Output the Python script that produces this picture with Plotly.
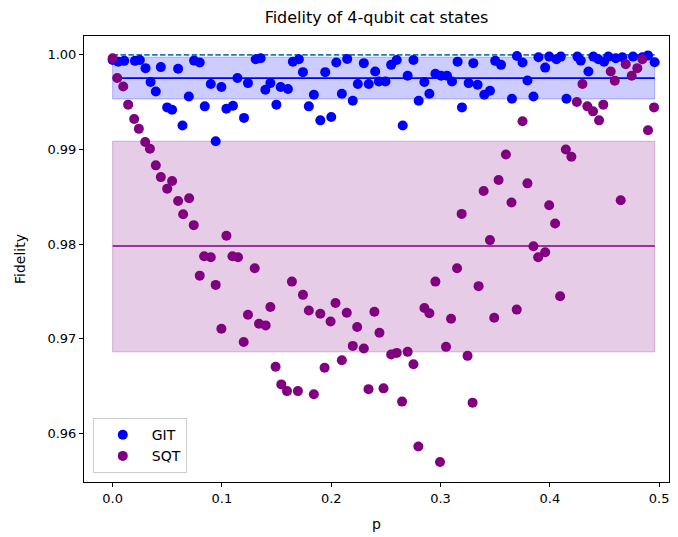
import plotly.graph_objects as go

# ---- data ----
git_p = [0.000, 0.0051, 0.0106, 0.0204, 0.0249, 0.0301, 0.0441, 0.0599, 0.0745, 0.0797,
         0.0347, 0.0395, 0.0499, 0.0544, 0.0697, 0.0639, 0.0843, 0.0898, 0.0995, 0.1041,
         0.1101, 0.1202, 0.0943, 0.1142, 0.1238, 0.1309, 0.1354, 0.1397, 0.1443, 0.1498,
         0.1537, 0.1604, 0.1649, 0.1704, 0.1741, 0.1795, 0.1841, 0.1900, 0.2000, 0.1945,
         0.2046, 0.2146, 0.2097, 0.2197, 0.2243, 0.2298, 0.2343, 0.2402, 0.2435, 0.2496,
         0.2548, 0.2599, 0.2699, 0.2654, 0.2752, 0.2800, 0.2852, 0.2898, 0.2953, 0.3005,
         0.3059, 0.3105, 0.3156, 0.3196, 0.3257, 0.3300, 0.3339, 0.3400, 0.3452, 0.3500,
         0.3553, 0.3653, 0.3699, 0.3750, 0.3795, 0.3850, 0.3896, 0.3957, 0.3994, 0.4060,
         0.4100, 0.4152, 0.4252, 0.4283, 0.4353, 0.4398, 0.4444, 0.4496, 0.4535, 0.4603,
         0.4663, 0.4761, 0.4898, 0.4959, 0.4846]
git_fid = [0.99947, 0.99929, 0.99937, 0.99937, 0.99947, 0.99860, 0.99871, 0.99853, 0.99940, 0.99919,
           0.99713, 0.99614, 0.99445, 0.99421, 0.99561, 0.99253, 0.99456, 0.99692, 0.99660, 0.99432,
           0.99463, 0.99334, 0.99087, 0.99755, 0.99702, 0.99955, 0.99965, 0.99632, 0.99702, 0.99474,
           0.99660, 0.99639, 0.99929, 0.99955, 0.99818, 0.99456, 0.99579, 0.99308, 0.99344, 0.99818,
           0.99919, 0.99958, 0.99589, 0.99516, 0.99692, 0.99913, 0.99692, 0.99824, 0.99719, 0.99719,
           0.99895, 0.99947, 0.99779, 0.99253, 0.99947, 0.99516, 0.99713, 0.99589, 0.99800, 0.99779,
           0.99779, 0.99719, 0.99929, 0.99445, 0.99702, 0.99913, 0.99684, 0.99579, 0.99621, 0.99937,
           0.99895, 0.99537, 0.99989, 0.99919, 0.99729, 0.99561, 0.99976, 0.99866, 0.99982, 0.99955,
           0.99982, 0.99537, 0.99982, 0.99940, 0.99824, 0.99982, 0.99955, 0.99929, 0.99982, 0.99965,
           0.99976, 0.99982, 0.99995, 0.99923, 0.99976]

sqt_p = [0.000, 0.0042, 0.0097, 0.0142, 0.0197, 0.0240, 0.0298, 0.0341, 0.0395, 0.0441,
         0.0544, 0.0499, 0.0599, 0.0700, 0.0645, 0.0742, 0.1041, 0.0837, 0.0898, 0.1096,
         0.1147, 0.1300, 0.0797, 0.0943, 0.1443, 0.1238, 0.1640, 0.1741, 0.1795, 0.1900,
         0.2039, 0.2142, 0.2395, 0.2852, 0.2898, 0.2953, 0.3151, 0.3348, 0.3193, 0.3394,
         0.3531, 0.3452, 0.3096, 0.3491, 0.3598, 0.4146, 0.4197, 0.3795, 0.3649, 0.3994,
         0.4648, 0.4048, 0.3850, 0.3957, 0.3893, 0.4094, 0.3697, 0.1339, 0.1400, 0.0995,
         0.1994, 0.2237, 0.2441, 0.1199, 0.2197, 0.2298, 0.1491, 0.1939, 0.2097, 0.1543,
         0.1595, 0.1695, 0.1841, 0.2341, 0.2478, 0.2548, 0.2599, 0.2699, 0.2752, 0.3050,
         0.3247, 0.2648, 0.3293, 0.2797, 0.2995, 0.4694, 0.4846, 0.4800, 0.4557, 0.4594,
         0.4749, 0.4298, 0.4247, 0.4343, 0.4395, 0.4489, 0.4450, 0.4953, 0.4898, 0.3750]
sqt_fid = [0.99965, 0.99755, 0.99666, 0.99474, 0.99323, 0.99218, 0.99079, 0.99007, 0.98832, 0.98708,
           0.98666, 0.98586, 0.98456, 0.98484, 0.98316, 0.98200, 0.98087, 0.97871, 0.97860, 0.97871,
           0.97860, 0.97744, 0.97666, 0.97568, 0.97334, 0.97253, 0.97603, 0.97463, 0.97298, 0.97263,
           0.97376, 0.97274, 0.97284, 0.97323, 0.97268, 0.97603, 0.97744, 0.97555, 0.98319, 0.98561,
           0.98677, 0.98042, 0.97211, 0.97221, 0.98947, 0.99000, 0.98923, 0.98642, 0.98439, 0.98411,
           0.98463, 0.98218, 0.97976, 0.97913, 0.97860, 0.97449, 0.97307, 0.97158, 0.97140, 0.97105,
           0.97182, 0.97123, 0.97063, 0.96965, 0.96923, 0.96895, 0.96702, 0.96692, 0.96772, 0.96516,
           0.96445, 0.96445, 0.96411, 0.96466, 0.96474, 0.96832, 0.96849, 0.96860, 0.96729, 0.96913,
           0.96818, 0.96334, 0.96323, 0.95860, 0.95695, 0.99902, 0.99955, 0.99860, 0.99824, 0.99726,
           0.99779, 0.99692, 0.99502, 0.99456, 0.99403, 0.99474, 0.99308, 0.99445, 0.99203, 0.99298]

git_mean = 0.99755
git_low, git_high = 0.99534, 0.99976
sqt_mean = 0.97979
sqt_low, sqt_high = 0.96860, 0.99087
ideal = 1.0

x_ticks = [0.0, 0.1, 0.2, 0.3, 0.4, 0.5]
y_ticks = [0.96, 0.97, 0.98, 0.99, 1.00]

x0 = min(git_p + sqt_p)
x1 = max(git_p + sqt_p)

fig = go.Figure()

# bands
fig.add_trace(go.Scatter(x=[x0, x1, x1, x0, x0], y=[git_low, git_low, git_high, git_high, git_low],
                         fill="toself", fillcolor="rgba(0,0,255,0.2)", mode="lines",
                         line=dict(color="rgba(0,0,255,0.25)", width=1),
                         showlegend=False, hoverinfo="skip"))
fig.add_trace(go.Scatter(x=[x0, x1, x1, x0, x0], y=[sqt_low, sqt_low, sqt_high, sqt_high, sqt_low],
                         fill="toself", fillcolor="rgba(128,0,128,0.2)", mode="lines",
                         line=dict(color="rgba(128,0,128,0.25)", width=1),
                         showlegend=False, hoverinfo="skip"))
# lines
fig.add_trace(go.Scatter(x=[x0, x1], y=[ideal, ideal], mode="lines",
                         line=dict(color="#1f77b4", width=1.6, dash="5.5px,2.4px"),
                         showlegend=False))
fig.add_trace(go.Scatter(x=[x0, x1], y=[git_mean, git_mean], mode="lines",
                         line=dict(color="blue", width=1.6), showlegend=False))
fig.add_trace(go.Scatter(x=[x0, x1], y=[sqt_mean, sqt_mean], mode="lines",
                         line=dict(color="purple", width=1.6), showlegend=False))
# points
fig.add_trace(go.Scatter(x=git_p, y=git_fid, mode="markers", name="GIT",
                         marker=dict(color="blue", size=10)))
fig.add_trace(go.Scatter(x=sqt_p, y=sqt_fid, mode="markers", name="SQT",
                         marker=dict(color="purple", size=10)))

axis_common = dict(showgrid=False, zeroline=False, showline=True, linecolor="black",
                   linewidth=1, mirror=True, ticks="outside", ticklen=4, tickcolor="black",
                   tickfont=dict(size=13, color="black"))

fig.update_layout(
    width=678, height=537,
    margin=dict(l=84, r=8, t=36, b=53),
    paper_bgcolor="white", plot_bgcolor="white",
    font=dict(family="DejaVu Sans", color="black"),
    title=dict(text="Fidelity of 4-qubit cat states", x=0.5, xref="paper",
               y=1 - 17 / 537, yref="container", yanchor="middle",
               font=dict(size=16, color="black")),
    xaxis=dict(range=[-0.0262, 0.509], tickvals=x_ticks,
               ticktext=[f"{v:.1f}" for v in x_ticks],
               title=dict(text="p", font=dict(size=14), standoff=14), **axis_common),
    yaxis=dict(range=[0.95484, 1.0020], tickvals=y_ticks,
               ticktext=[f"{v:.2f}" for v in y_ticks],
               title=dict(text="Fidelity", font=dict(size=14), standoff=18), **axis_common),
    legend=dict(x=0.015, y=0.02, xanchor="left", yanchor="bottom",
                bgcolor="rgba(255,255,255,0.8)", bordercolor="#cccccc", borderwidth=1,
                itemwidth=48, font=dict(size=14)),
)

fig.write_html("out.html")
